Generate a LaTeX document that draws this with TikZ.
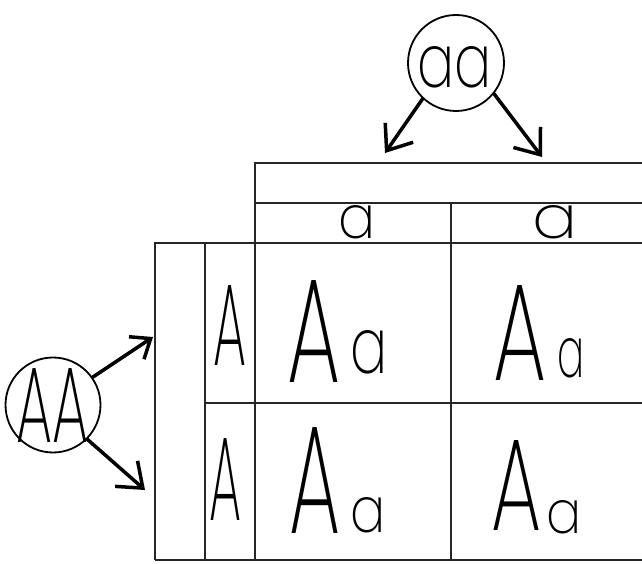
\documentclass[tikz,border=0pt]{standalone}
\usepackage{fontspec}
\setmainfont{Poppins}[UprightFont={* ExtraLight}]
\usepackage{graphicx}
\usetikzlibrary{arrows.meta}
\newcommand\gl[3]{\resizebox{#1pt}{#2pt}{#3}}
\newcommand\AaT[6]{\gl{#1}{#2}{A}\hspace{#3pt}\raisebox{#6pt}{\gl{#4}{#5}{a}}}
\begin{document}
\begin{tikzpicture}[x=1pt,y=-1pt,
  grid/.style={line width=1.6pt,black!85},
  txt/.style={inner sep=0pt,outer sep=0pt},
  ring/.style={circle,draw,line width=1.8pt,inner sep=0pt,minimum size=95pt},
  bigarrow/.style={line width=3.5pt,line cap=round,-{Straight Barb[length=22pt,width=34pt,line width=3.5pt]}},
  smallarrow/.style={line width=3.5pt,line cap=round,-{Straight Barb[length=17pt,width=27pt,line width=3.5pt]}}]
\useasboundingbox (0,0) rectangle (642,564);
\clip (0,0) rectangle (642,564);
% table
\draw[grid] (660,163) -- (255,163) -- (255,560);
\draw[grid] (255,203) -- (660,203);
\draw[grid] (155,560) -- (155,243) -- (660,243);
\draw[grid] (205,243) -- (205,560);
\draw[grid] (451,203) -- (451,560);
\draw[grid] (205,403) -- (660,403);
\draw[grid] (155,560) -- (660,560);
% header gametes
\node[txt,anchor=base west] (h1) at (338,238) {\gl{37}{33}{a}};
\node[txt,anchor=base west] (h2) at (532,238) {\gl{45}{33}{a}};
% row gametes
\node[txt,anchor=base west] (r1) at (213,365) {\gl{33}{80}{A}};
\node[txt,anchor=base west] (r2) at (209,520) {\gl{32}{82}{A}};
% cells
\node[txt,anchor=base west] (c11) at (287,382) {\AaT{53}{102}{10}{37}{43}{9}};
\node[txt,anchor=base west] (c12) at (493,380) {\AaT{53}{95}{11}{27}{39}{3}};
\node[txt,anchor=base west] (c21) at (289,533) {\AaT{51}{106}{10}{35}{35}{1}};
\node[txt,anchor=base west] (c22) at (491,530) {\AaT{50}{90}{5}{35}{33}{-3}};
% parents
\node[ring,minimum size=96pt] (aa) at (456,63) {};
\node[txt,anchor=base west] (aat) at (417,88) {\gl{74}{41}{aa}};
\node[ring,minimum size=95pt] (AA) at (53,405) {};
\node[txt,anchor=base west] (AAt) at (16,442) {\gl{72}{74}{AA}};
% arrows
\coordinate (ta1) at (385,153);
\coordinate (ta2) at (542,157);
\coordinate (tA1) at (153,337);
\coordinate (tA2) at (145,490);
\draw[bigarrow] (aa.227) -- (ta1);
\draw[bigarrow] (aa.-39) -- (ta2);
\draw[smallarrow] (AA.35) -- (tA1);
\draw[bigarrow] (AA.-45) -- (tA2);
\end{tikzpicture}
\end{document}
